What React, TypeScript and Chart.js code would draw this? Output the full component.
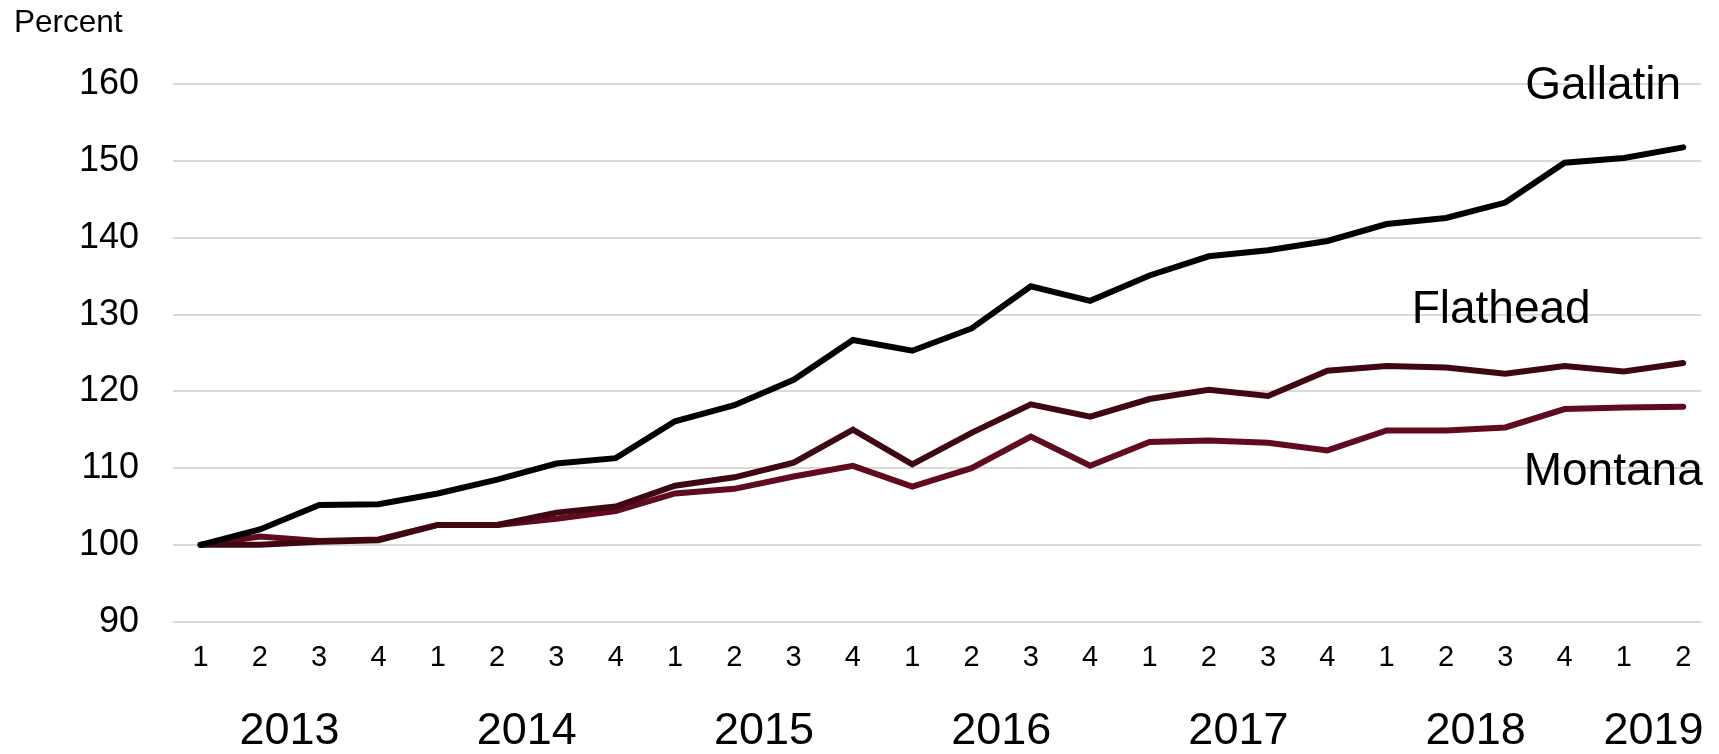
import React, { useEffect, useRef } from 'react';
import { Chart, registerables } from 'chart.js';

Chart.register(...registerables);

// ---- Data ----
const QUARTERS = ['1','2','3','4','1','2','3','4','1','2','3','4','1','2','3','4','1','2','3','4','1','2','3','4','1','2'];
const YEARS = ['2013','2014','2015','2016','2017','2018','2019'];

const GALLATIN = [100, 102.0, 105.2, 105.3, 106.7, 108.5, 110.6, 111.3, 116.1, 118.2, 121.5, 126.7, 125.3, 128.2, 133.7, 131.8, 135.1, 137.6, 138.4, 139.6, 141.8, 142.6, 144.6, 149.8, 150.4, 151.8];
const FLATHEAD = [100, 100.0, 100.4, 100.6, 102.6, 102.6, 104.2, 105.0, 107.7, 108.8, 110.7, 115.0, 110.5, 114.6, 118.3, 116.7, 119.0, 120.2, 119.4, 122.7, 123.3, 123.1, 122.3, 123.3, 122.6, 123.7];
const MONTANA = [100, 101.1, 100.5, 100.7, 102.6, 102.6, 103.4, 104.4, 106.7, 107.3, 108.9, 110.3, 107.6, 110.0, 114.1, 110.3, 113.4, 113.6, 113.3, 112.3, 114.9, 114.9, 115.3, 117.7, 117.9, 118.0];

const Y_MIN = 90;
const Y_MAX = 160;
const Y_STEP = 10;

// ---- Styling / annotation placement ----
const FONT = "'Liberation Sans', Arial, Helvetica, sans-serif";
const SERIES = [
  { name: 'Gallatin', data: GALLATIN, color: '#000000', labelAt: { x: 23.65, y: 159.8 } },
  { name: 'Flathead', data: FLATHEAD, color: '#3f0712', labelAt: { x: 21.93, y: 130.6 } },
  { name: 'Montana', data: MONTANA, color: '#600b1f', labelAt: { x: 23.82, y: 109.4 } },
];

const seriesLabelPlugin = {
  id: 'seriesLabels',
  afterDraw(chart: any) {
    const { ctx, scales } = chart;
    ctx.save();
    ctx.fillStyle = '#000';
    ctx.font = `46px ${FONT}`;
    ctx.textAlign = 'center';
    ctx.textBaseline = 'middle';
    SERIES.forEach((s) => {
      const px = scales.x.getPixelForValue(s.labelAt.x);
      const py = scales.y.getPixelForValue(s.labelAt.y);
      ctx.fillText(s.name, px, py);
    });
    ctx.restore();
  },
};

const yearLabelPlugin = {
  id: 'yearLabels',
  afterDraw(chart: any) {
    const { ctx, scales, chartArea } = chart;
    // group quarter indexes into years (a new year starts at quarter '1')
    const groups: number[][] = [];
    QUARTERS.forEach((q, i) => {
      if (q === '1' || groups.length === 0) groups.push([]);
      groups[groups.length - 1].push(i);
    });
    ctx.save();
    ctx.fillStyle = '#000';
    ctx.font = `45px ${FONT}`;
    ctx.textAlign = 'center';
    ctx.textBaseline = 'middle';
    groups.forEach((g, gi) => {
      const a = scales.x.getPixelForValue(g[0]);
      const b = scales.x.getPixelForValue(g[g.length - 1]);
      ctx.fillText(YEARS[gi], (a + b) / 2, chartArea.bottom + 110);
    });
    ctx.restore();
  },
};

export default function App() {
  const canvasRef = useRef<HTMLCanvasElement | null>(null);

  useEffect(() => {
    document.body.style.margin = '0';
    const canvas = canvasRef.current;
    if (!canvas) return;
    const chart = new Chart(canvas, {
      type: 'line',
      data: {
        datasets: SERIES.map((s) => ({
          label: s.name,
          data: s.data.map((v, i) => ({ x: i, y: v })),
          borderColor: s.color,
          backgroundColor: s.color,
          borderWidth: 6,
          pointRadius: 0,
          tension: 0,
          borderCapStyle: 'round',
          borderJoinStyle: 'miter',
          fill: false,
        })),
      },
      options: {
        responsive: false,
        animation: false,
        layout: { padding: { left: 14, right: 18, top: 0, bottom: 0 } },
        plugins: {
          legend: { display: false },
          tooltip: { enabled: false },
          title: {
            display: true,
            text: 'Percent',
            align: 'start',
            color: '#000',
            font: { family: FONT, size: 31.5, weight: 'normal' },
            padding: { top: 4.5, bottom: 42.1 },
          },
        },
        scales: {
          x: {
            type: 'linear',
            min: -0.465,
            max: 25.3,
            grid: { display: false, drawTicks: false },
            border: { display: false },
            afterBuildTicks: (scale: any) => {
              scale.ticks = QUARTERS.map((_, i) => ({ value: i }));
            },
            afterFit: (scale: any) => {
              scale.height = 132.4;
            },
            ticks: {
              autoSkip: false,
              maxRotation: 0,
              minRotation: 0,
              padding: 19,
              color: '#000',
              font: { family: FONT, size: 29 },
              callback: (value: any) => QUARTERS[value as number] ?? '',
            },
          },
          y: {
            min: Y_MIN,
            max: Y_MAX,
            grid: { color: '#d9d9d9', lineWidth: 2, drawTicks: false },
            border: { display: false },
            afterFit: (scale: any) => {
              scale.width = 159;
            },
            ticks: {
              stepSize: Y_STEP,
              padding: 34,
              color: '#000',
              font: { family: FONT, size: 36 },
            },
          },
        },
      },
      plugins: [seriesLabelPlugin, yearLabelPlugin],
    } as any);
    return () => chart.destroy();
  }, []);

  return (
    <div style={{ width: 1719, height: 754 }}>
      <canvas ref={canvasRef} width={1719} height={754} style={{ display: 'block' }} />
    </div>
  );
}
